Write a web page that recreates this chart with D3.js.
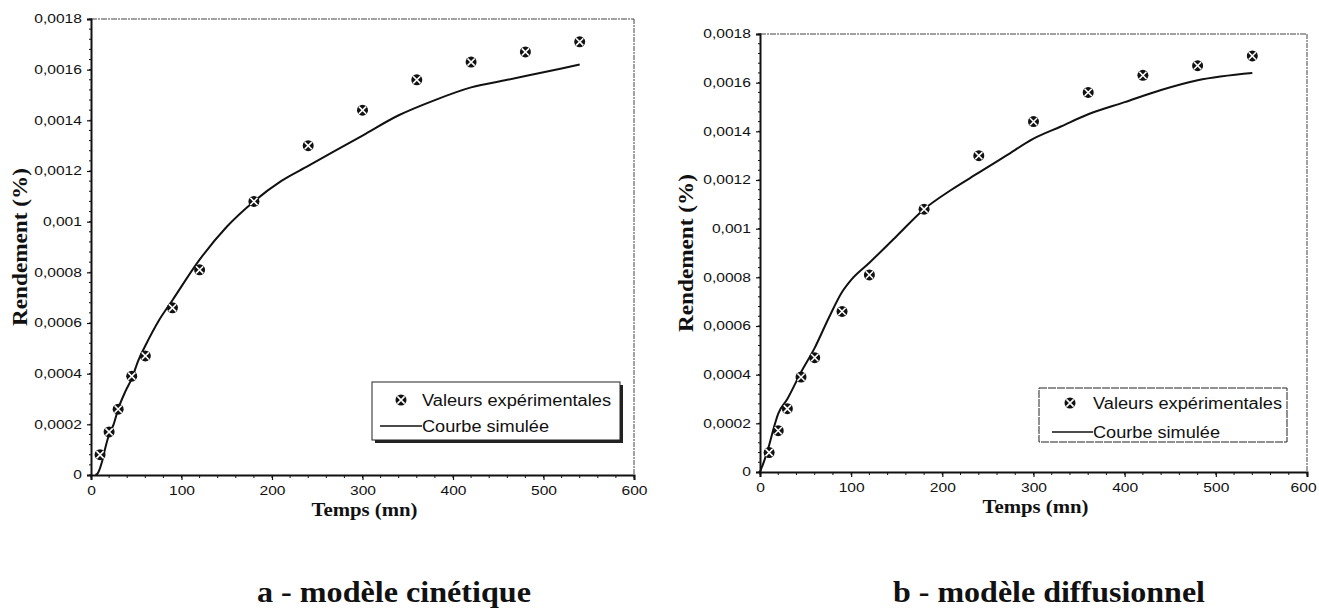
<!DOCTYPE html>
<meta charset="utf-8">
<style>
body { margin: 0; background: #fff; }
.tick text { font-family: "Liberation Sans", Arial, sans-serif; font-size: 12px; fill: #111; }
.title { font-family: "Liberation Serif", "Times New Roman", serif; font-weight: bold; fill: #111; }
.legend text { font-family: "Liberation Sans", Arial, sans-serif; font-size: 16px; fill: #111; }
</style>
<svg width="1319" height="610" id="chart"></svg>
<script src="https://d3js.org/d3.v7.min.js"></script>
<script>
// experimental points (same for both panels)
var timeExp  = [10, 20, 30, 45, 60, 90, 120, 180, 240, 300, 360, 420, 480, 540];
var yieldExp = [0.00008, 0.00017, 0.00026, 0.00039, 0.00047, 0.00066, 0.00081,
                0.00108, 0.00130, 0.00144, 0.00156, 0.00163, 0.00167, 0.00171];

// simulated curve, kinetic model
var kinT = [5, 8, 12, 16, 20, 25, 30, 38, 45, 52, 60, 75, 90, 120, 150, 180, 210,
            240, 270, 300, 340, 380, 420, 460, 500, 540];
var kinY = [0, 0.00001, 0.00005, 0.00011, 0.00016, 0.00020, 0.00026, 0.00033, 0.00038,
            0.00045, 0.00051, 0.00061, 0.00069, 0.00085, 0.00098, 0.00108, 0.00116,
            0.00122, 0.00128, 0.00134, 0.00142, 0.00148, 0.00153, 0.00156, 0.00159, 0.00162];

// simulated curve, diffusion model
var difT = [0, 5, 10, 15, 20, 30, 45, 60, 75, 90, 100, 120, 150, 180, 210, 240, 270,
            300, 330, 360, 400, 440, 480, 540];
var difY = [0, 0.00005, 0.00011, 0.00018, 0.00024, 0.00030, 0.00041, 0.00051, 0.00063,
            0.00074, 0.00079, 0.00086, 0.00097, 0.00108, 0.00116, 0.00123, 0.00130,
            0.00137, 0.00142, 0.00147, 0.00152, 0.00157, 0.00161, 0.00164];

var xTicks = [0, 100, 200, 300, 400, 500, 600];
var yTicks = [0, 0.0002, 0.0004, 0.0006, 0.0008, 0.001, 0.0012, 0.0014, 0.0016, 0.0018];
var legendLabels = ["Valeurs expérimentales", "Courbe simulée"];
var captions = ["a - modèle cinétique", "b - modèle diffusionnel"];
var xTitle = "Temps (mn)";
var yTitle = "Rendement (%)";

var fr = d3.formatLocale({decimal: ",", thousands: ".", grouping: [3], currency: ["", ""]});
var fmt = fr.format("~g");

var svg = d3.select("#chart");

var panels = [
  {left: 91, right: 634, top: 19, bottom: 475, t: kinT, y: kinY, caption: captions[0],
   capX: 394, capW: 274, ytX: 20,
   leg: {x: 372, y: 382, w: 248, h: 58, mx: 401, tx: 422, lx0: 380, r1: 400, r2: 426, shadow: true}},
  {left: 760, right: 1307, top: 34, bottom: 472, t: difT, y: difY, caption: captions[1],
   capX: 1049, capW: 312, ytX: 686,
   leg: {x: 1039, y: 388, w: 248, h: 54, mx: 1070, tx: 1093, lx0: 1052, r1: 403, r2: 432, shadow: false}}
];

function marker(g, cx, cy) {
  var m = g.append("g").attr("transform", "translate(" + cx + "," + cy + ")");
  m.append("circle").attr("r", 5.5).attr("fill", "#111");
  m.append("path").attr("d", "M-3.6,-3.6L3.6,3.6M-3.6,3.6L3.6,-3.6")
    .attr("stroke", "#fff").attr("stroke-width", 1.6);
}

panels.forEach(function(p, pi) {
  var x = d3.scaleLinear().domain([0, 600]).range([p.left, p.right]);
  var y = d3.scaleLinear().domain([0, 0.0018]).range([p.bottom, p.top]);
  var g = svg.append("g");

  // frame top / right (faint, scanned look)
  g.append("line").attr("x1", p.left).attr("x2", p.right).attr("y1", p.top).attr("y2", p.top)
    .attr("stroke", "#444").attr("stroke-width", 1).attr("stroke-dasharray", "6,1,2,1");
  g.append("line").attr("x1", p.right).attr("x2", p.right).attr("y1", p.top).attr("y2", p.bottom)
    .attr("stroke", "#444").attr("stroke-width", 1).attr("stroke-dasharray", "5,1,2,1");

  // minor ticks
  var minorY = d3.range(0, 0.00181, 0.00004);
  g.selectAll(".my").data(minorY).enter().append("line")
    .attr("x1", p.left - 2).attr("x2", p.left + 1)
    .attr("y1", d => y(d)).attr("y2", d => y(d))
    .attr("stroke", "#111").attr("stroke-width", 1);
  var minorX = d3.range(0, 601, 20);
  g.selectAll(".mx").data(minorX).enter().append("line")
    .attr("x1", d => x(d)).attr("x2", d => x(d))
    .attr("y1", p.bottom).attr("y2", p.bottom + 3)
    .attr("stroke", "#111").attr("stroke-width", 1);

  var ya = g.append("g").attr("transform", "translate(" + p.left + ",0)")
    .call(d3.axisLeft(y).tickValues(yTicks).tickFormat(fmt).tickSize(4).tickPadding(6));
  var xa = g.append("g").attr("transform", "translate(0," + p.bottom + ")")
    .call(d3.axisBottom(x).tickValues(xTicks).tickFormat(d3.format("d")).tickSize(5).tickPadding(6));
  [ya, xa].forEach(function(a) {
    a.select(".domain").attr("stroke", "#111").attr("stroke-width", 2);
    a.selectAll(".tick line").attr("stroke", "#111").attr("stroke-width", 1.2);
  });
  ya.selectAll(".tick text").attr("transform", "scale(1.3,1)").attr("x", -7);
  xa.selectAll(".tick text").attr("transform", "scale(1.3,1)");
  // keep the last label of the right panel inside the page
  if (pi === 1) {
    xa.selectAll(".tick text").filter(d => d === 600).attr("x", -3);
  }

  // axis titles
  g.append("text").attr("class", "title")
    .attr("x", (p.left + p.right) / 2 + 2).attr("y", p.bottom + 41)
    .attr("text-anchor", "middle").style("font-size", "18px")
    .attr("textLength", 106).attr("lengthAdjust", "spacingAndGlyphs")
    .text(xTitle);
  g.append("text").attr("class", "title")
    .attr("transform", "translate(" + (p.ytX + 7) + "," + ((p.top + p.bottom) / 2) + ") rotate(-90)")
    .attr("text-anchor", "middle").style("font-size", "20px")
    .attr("textLength", 158).attr("lengthAdjust", "spacingAndGlyphs")
    .text(yTitle);

  // caption
  g.append("text").attr("class", "title")
    .attr("x", p.capX).attr("y", 602).attr("text-anchor", "middle")
    .style("font-size", "29px")
    .attr("textLength", p.capW).attr("lengthAdjust", "spacingAndGlyphs")
    .text(p.caption);

  // simulated curve
  var pts = p.t.map(function(t, i) { return [t, p.y[i]]; });
  g.append("path").datum(pts)
    .attr("fill", "none").attr("stroke", "#111").attr("stroke-width", 2)
    .attr("d", d3.line().x(d => x(d[0])).y(d => y(d[1])).curve(d3.curveMonotoneX));

  // experimental points
  timeExp.forEach(function(t, i) { marker(g, x(t), y(yieldExp[i])); });

  // legend
  var L = p.leg;
  var lg = g.append("g").attr("class", "legend");
  if (L.shadow) {
    lg.append("rect").attr("x", L.x + 3).attr("y", L.y + 3).attr("width", L.w).attr("height", L.h)
      .attr("fill", "#222");
  }
  lg.append("rect").attr("x", L.x).attr("y", L.y).attr("width", L.w).attr("height", L.h)
    .attr("fill", "#fff").attr("stroke", "#222").attr("stroke-width", 1)
    .attr("stroke-dasharray", L.shadow ? null : "8,1");
  marker(lg, L.mx, L.r1);
  lg.append("line").attr("x1", L.lx0).attr("x2", L.tx).attr("y1", L.r2).attr("y2", L.r2)
    .attr("stroke", "#111").attr("stroke-width", 1.5);
  lg.append("text").attr("x", L.tx).attr("y", L.r1).attr("dy", "0.35em")
    .attr("textLength", 189).attr("lengthAdjust", "spacingAndGlyphs").text(legendLabels[0]);
  lg.append("text").attr("x", L.tx).attr("y", L.r2).attr("dy", "0.35em")
    .attr("textLength", 127).attr("lengthAdjust", "spacingAndGlyphs").text(legendLabels[1]);
});
</script>
